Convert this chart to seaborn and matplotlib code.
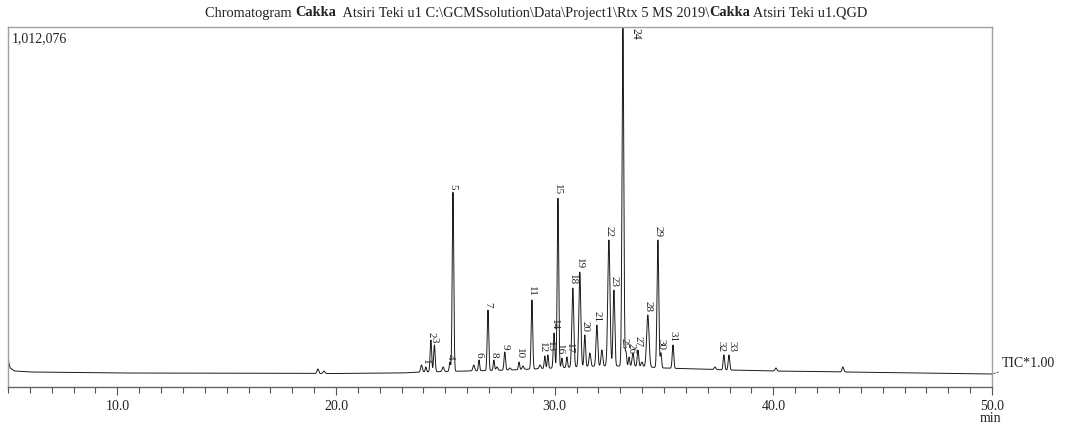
import numpy as np
import pandas as pd
import matplotlib
matplotlib.use("Agg")
import matplotlib.pyplot as plt
import seaborn as sns
from matplotlib.ticker import MultipleLocator, FuncFormatter

# ---------------- data ----------------
Y_MAX = 1012076

peak_labels = [str(i) for i in range(1, 34)]
peak_times = [24.11, 24.34, 24.50, 25.21, 25.35, 26.54, 26.95, 27.22, 27.72, 28.37,
              28.96, 29.55, 29.69, 29.97, 30.15, 30.33, 30.56, 30.83, 31.15, 31.38,
              31.93, 32.48, 32.71, 33.12, 33.26, 33.40, 33.81, 34.26, 34.72, 34.86,
              35.41, 37.74, 37.97]
peak_heights = [56226, 132131, 118075, 70283, 548204, 75905, 216470, 75905, 98396, 70283,
                244583, 87150, 89962, 151810, 531336, 81528, 84339, 278319, 323300, 146188,
                174301, 413264, 272696, 1012076, 98396, 84339, 104018, 202414, 413264, 95585,
                118075, 89962, 89962]
peak_sigmas = [0.03, 0.035, 0.035, 0.03, 0.035, 0.03, 0.035, 0.03, 0.035, 0.03,
               0.035, 0.03, 0.03, 0.035, 0.035, 0.03, 0.03, 0.045, 0.045, 0.035,
               0.04, 0.05, 0.04, 0.04, 0.03, 0.03, 0.035, 0.055, 0.04, 0.03,
               0.035, 0.035, 0.035]

minor_times = [19.17, 19.45, 23.91, 24.90, 26.30, 27.36, 27.95, 28.55, 29.33,
               31.61, 32.16, 33.58, 33.99, 37.33, 40.12, 43.18]
minor_heights = [50603, 44981, 61850, 56226, 61850, 56226, 53415, 59037, 61850,
                 95585, 104018, 95585, 70283, 56226, 53415, 56226]

base_times = [5.0, 5.03, 5.1, 5.3, 6.0, 10.0, 20.0, 23.0, 24.0, 26.0, 28.0, 30.0,
              32.0, 33.5, 35.0, 36.5, 38.0, 40.0, 45.0, 50.0]
base_levels = [90000, 70000, 53415, 44981, 42170, 39358, 37953, 39358, 42170, 44981,
               47792, 53415, 59037, 59037, 53415, 50603, 47792, 44981, 40764, 36547]

x_ticks = [10.0, 20.0, 30.0, 40.0, 50.0]

# ---------------- build trace ----------------
t = np.arange(5.0, 50.0001, 0.004)
base = np.interp(t, base_times, base_levels)
trace = base.copy()
for pt, ph, ps in zip(peak_times, peak_heights, peak_sigmas):
    amp = ph - np.interp(pt, base_times, base_levels)
    trace += amp * np.exp(-0.5 * ((t - pt) / ps) ** 2)
for pt, ph in zip(minor_times, minor_heights):
    amp = ph - np.interp(pt, base_times, base_levels)
    trace += amp * np.exp(-0.5 * ((t - pt) / 0.04) ** 2)
trace = np.minimum(trace, Y_MAX)
df = pd.DataFrame({"time": t, "intensity": trace})

# ---------------- plot ----------------
sns.set_theme(style="white")
plt.rcParams["font.family"] = ["Liberation Serif", "DejaVu Serif"]

fig = plt.figure(figsize=(10.65, 4.25), dpi=100)
ax = fig.add_axes([8 / 1065, 38 / 425, 984 / 1065, 360 / 425])

sns.lineplot(data=df, x="time", y="intensity", ax=ax, color="#1a1a1a",
             linewidth=0.7, estimator=None, sort=False)

ax.set_xlim(5.0, 50.0)
ax.set_ylim(0, Y_MAX)
ax.set_xlabel("")
ax.set_ylabel("")
ax.set_yticks([])
ax.xaxis.set_minor_locator(MultipleLocator(1))
ax.set_xticks(x_ticks)
ax.xaxis.set_major_formatter(FuncFormatter(lambda v, p: f"{v:.1f}"))
ax.tick_params(axis="x", which="major", direction="out", length=6, width=0.8,
               color="#555555", labelsize=10, pad=3, labelcolor="#222222")
ax.tick_params(axis="x", which="minor", direction="out", length=4, width=0.8,
               color="#555555")
ax.tick_params(axis="x", which="both", bottom=True)
for side in ["left", "top", "right"]:
    ax.spines[side].set_color("#a0a0a0")
    ax.spines[side].set_linewidth(1.0)
ax.spines["bottom"].set_color("#666666")
ax.spines["bottom"].set_linewidth(1.0)

# peak labels (small horizontal nudges for crowded neighbours, in points)
label_nudge = {"12": -2.0, "13": 2.0, "16": -2.0, "17": 2.0, "25": -1.5, "26": 1.5,
               "32": -2.0, "33": 2.0}
for lab, pt, ph in zip(peak_labels, peak_times, peak_heights):
    if ph >= Y_MAX * 0.97:
        ax.annotate(lab, xy=(pt, Y_MAX), xytext=(5, -1), textcoords="offset points",
                    rotation=270, ha="left", va="top", fontsize=8.5, color="#222222")
    else:
        ax.annotate(lab, xy=(pt, ph), xytext=(label_nudge.get(lab, 0.0), 2),
                    textcoords="offset points", rotation=270, ha="center",
                    va="bottom", fontsize=8, color="#222222")

# y maximum text
ax.text(0.004, 0.985, f"{Y_MAX:,}", transform=ax.transAxes, ha="left", va="top",
        fontsize=10, color="#222222")

# TIC label with dotted leader
ax.annotate("TIC*1.00", xy=(50.0, trace[-1]), xytext=(7, 3), textcoords="offset points",
            ha="left", va="bottom", fontsize=10, color="#222222",
            annotation_clip=False,
            arrowprops=dict(arrowstyle="-", linestyle=(0, (1.5, 1.5)), color="#777777",
                            linewidth=0.8, shrinkA=0, shrinkB=0))

fig.text(990 / 1065, 1 - 419 / 425, "min", ha="center", va="center", fontsize=10,
         color="#222222")

# title with bold parts
title_pieces = [("Chromatogram ", "normal"), ("Cakka", "bold"),
                ("  Atsiri Teki u1 C:\\GCMSsolution\\Data\\Project1\\Rtx 5 MS 2019\\", "normal"),
                ("Cakka", "bold"), (" Atsiri Teki u1.QGD", "normal")]
fig.canvas.draw()
renderer = fig.canvas.get_renderer()
x = 205 / 1065
for txt, wt in title_pieces:
    tt = fig.text(x, 1 - 13 / 425, txt, ha="left", va="center", fontsize=10.4,
                  fontweight=wt, color="#222222")
    bb = tt.get_window_extent(renderer=renderer)
    x += bb.width / fig.bbox.width

fig.savefig("out.png", dpi=100)
